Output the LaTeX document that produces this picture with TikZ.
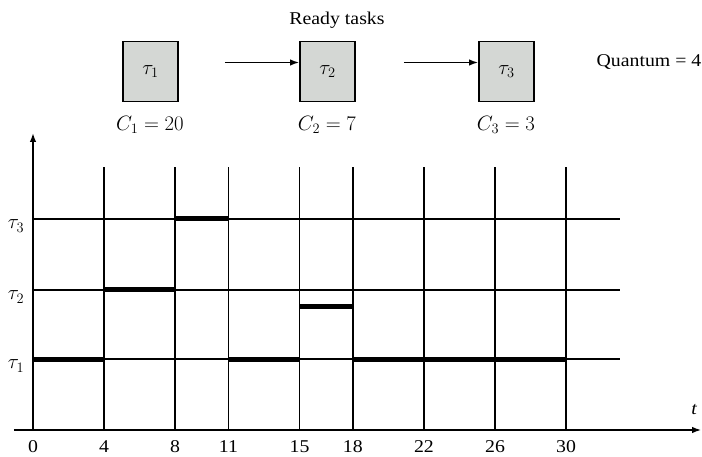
\documentclass[tikz,border=0pt]{standalone}
\usepackage{fontspec}
\setmainfont{Liberation Serif}[FakeStretch=1.1]
\usepackage{tikz}
\usetikzlibrary{arrows.meta,positioning}
\definecolor{taskgray}{HTML}{D4D7D4}

\begin{document}
\begin{tikzpicture}[
  x=1pt, y=-1pt,
  font=\fontsize{18}{21}\selectfont,
  >={Latex[length=9pt,width=6.5pt]},
  mathlabel/.style={font=\fontsize{20}{24}\selectfont},
  taskbox/.style={
    mathlabel,
    draw=black,
    fill=taskgray,
    line width=1.8pt,
    minimum width=55pt,
    minimum height=60pt,
    inner sep=0pt
  },
  gridline/.style={line width=1.5pt},
  runbar/.style={line width=5pt},
  axisline/.style={->, line width=1.6pt}
]
  \useasboundingbox (0,0) rectangle (702,457);

  % --- ready queue ---
  \node (ready) at (337,20) {Ready tasks};
  \node[taskbox] (t1) at (150.5,71.5) {$\tau_1$};
  \node[taskbox] (t2) at (327.5,71.5) {$\tau_2$};
  \node[taskbox] (t3) at (506.5,71.5) {$\tau_3$};
  \node[mathlabel] (c1) at (150,125) {$C_1 = 20$};
  \node[mathlabel] (c2) at (327,125) {$C_2 = 7$};
  \node[mathlabel] (c3) at (506,125) {$C_3 = 3$};
  \node (quantum) at (649,62) {Quantum = 4};

  \draw[->, line width=1.5pt] ([xshift=46pt,yshift=9pt]t1.east) -- ([yshift=9pt]t2.west);
  \draw[->, line width=1.5pt] ([xshift=48pt,yshift=9pt]t2.east) -- ([yshift=9pt]t3.west);

  % --- round robin schedule ---
  \begin{scope}[shift={(33,430)}, x=17.77pt, y=1pt]
    % time slots
    \foreach \t in {4,8,11,15,18,22,26,30}{
      \draw[gridline] (\t,0) -- (\t,263);
      \node (tick\t) at (\t,-17) {\t};
    }
    \node (tick0) at (0,-17) {0};
    % task rows
    \foreach \r/\y in {1/71,2/140,3/211}{
      \draw[gridline] (0,\y) -- (33.03,\y);
      \node[mathlabel] (row\r) at (-0.96,\y-7) {$\tau_\r$};
    }
    % axes
    \coordinate (origin) at (0,0);
    \coordinate (tend) at (37.6,0);
    \coordinate (yend) at (0,297);
    \draw[axisline] (-1.07,0) -- (tend);
    \draw[axisline] (origin) -- (yend);
    \node (tlabel) at (37.2,20) {\itshape t};
    % execution
    \draw[runbar] (0,71) -- (4,71);
    \draw[runbar] (4,140) -- (8,140);
    \draw[runbar] (8,211) -- (11,211);
    \draw[runbar] (11,71) -- (15,71);
    \draw[runbar] (15,123) -- (18,123);
    \draw[runbar] (18,71) -- (30,71);
  \end{scope}

\end{tikzpicture}
\end{document}
